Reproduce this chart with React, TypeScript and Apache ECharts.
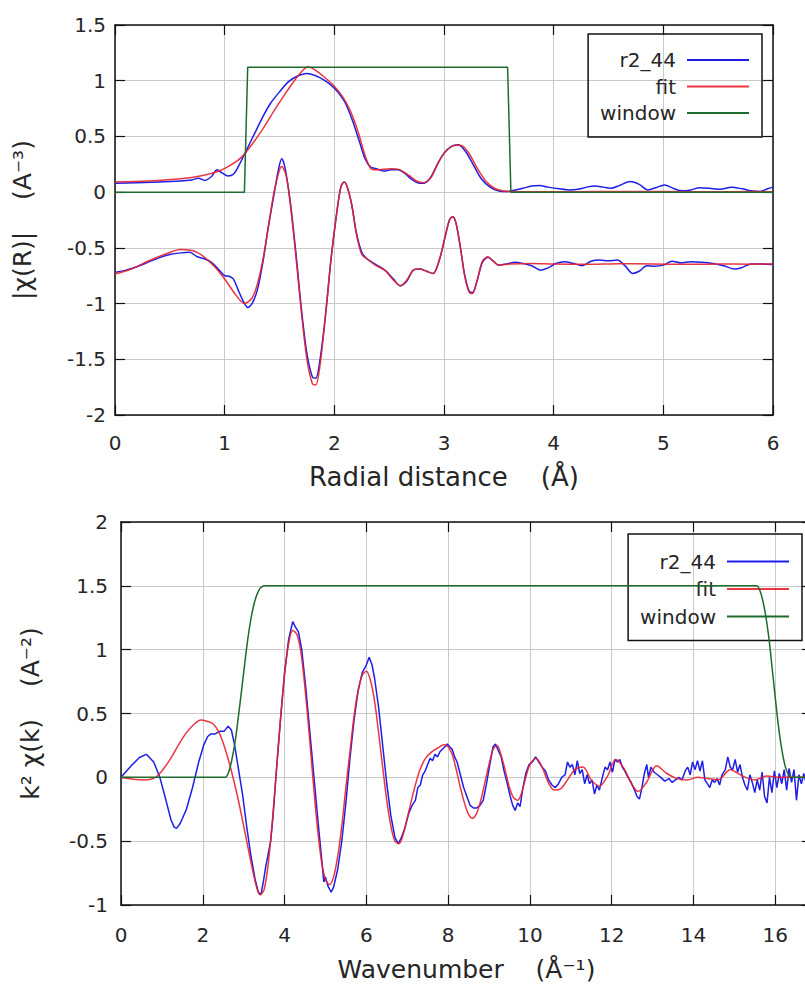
import React, { useEffect, useRef } from "react";
import * as echarts from "echarts";

const BLUE = "#1e1ee8";
const RED = "#e8202c";
const GREEN = "#1e6b2e";
const TEXT = "#262626";
const FONT = '"DejaVu Sans", sans-serif';

const legendNames = ["r2_44", "fit", "window"];

// ---------- R-space (top) ----------
const rMagData: [number, number][] = [
  [0, 0.08], [0.2, 0.085], [0.4, 0.09], [0.6, 0.1], [0.7, 0.11], [0.76, 0.125], [0.82, 0.105],
  [0.88, 0.14], [0.93, 0.2], [0.98, 0.17], [1.03, 0.145], [1.08, 0.16], [1.13, 0.24], [1.2, 0.38],
  [1.27, 0.52], [1.35, 0.68], [1.42, 0.8], [1.5, 0.9], [1.58, 0.99], [1.66, 1.04], [1.75, 1.065],
  [1.83, 1.045], [1.9, 1.01], [1.97, 0.96], [2.03, 0.9], [2.1, 0.8], [2.17, 0.63], [2.23, 0.45],
  [2.28, 0.3], [2.33, 0.225], [2.38, 0.21], [2.45, 0.19], [2.52, 0.2], [2.58, 0.2], [2.64, 0.17],
  [2.7, 0.12], [2.76, 0.085], [2.81, 0.08], [2.87, 0.12], [2.94, 0.25], [3.0, 0.35], [3.07, 0.41],
  [3.13, 0.425], [3.2, 0.36], [3.27, 0.24], [3.34, 0.12], [3.42, 0.045], [3.5, 0.01], [3.58, 0.005],
  [3.65, 0.02], [3.72, 0.035], [3.8, 0.055], [3.87, 0.06], [3.95, 0.045], [4.05, 0.03], [4.15, 0.02],
  [4.22, 0.025], [4.3, 0.045], [4.38, 0.055], [4.45, 0.045], [4.52, 0.035], [4.6, 0.06], [4.7, 0.095],
  [4.78, 0.07], [4.86, 0.02], [4.93, 0.04], [5.01, 0.065], [5.1, 0.03], [5.17, 0.012], [5.25, 0.02],
  [5.33, 0.04], [5.42, 0.035], [5.52, 0.025], [5.62, 0.045], [5.72, 0.03], [5.8, 0.012], [5.88, 0.006],
  [5.95, 0.03], [6.0, 0.045],
];

const rMagFit: [number, number][] = [
  [0, 0.09], [0.3, 0.1], [0.6, 0.12], [0.8, 0.15], [0.95, 0.19], [1.05, 0.24], [1.15, 0.31],
  [1.25, 0.43], [1.35, 0.57], [1.45, 0.73], [1.55, 0.88], [1.65, 1.02], [1.72, 1.1], [1.76, 1.125],
  [1.82, 1.1], [1.9, 1.04], [2.0, 0.95], [2.08, 0.85], [2.15, 0.72], [2.22, 0.53], [2.28, 0.33],
  [2.33, 0.215], [2.38, 0.2], [2.45, 0.205], [2.52, 0.21], [2.6, 0.2], [2.68, 0.15], [2.75, 0.1],
  [2.81, 0.085], [2.88, 0.13], [2.95, 0.27], [3.02, 0.37], [3.1, 0.42], [3.15, 0.42], [3.22, 0.36],
  [3.3, 0.22], [3.38, 0.1], [3.46, 0.035], [3.54, 0.01], [3.62, 0.005], [3.8, 0.003], [4.2, 0.004],
  [4.6, 0.006], [5.0, 0.005], [5.4, 0.004], [5.8, 0.005], [6.0, 0.004],
];

const rReData: [number, number][] = [
  [0, -0.72], [0.1, -0.7], [0.2, -0.67], [0.3, -0.63], [0.4, -0.59], [0.5, -0.56], [0.6, -0.545],
  [0.68, -0.54], [0.75, -0.58], [0.82, -0.6], [0.88, -0.63], [0.95, -0.7], [1.0, -0.75], [1.04, -0.755],
  [1.08, -0.78], [1.12, -0.87], [1.17, -0.98], [1.21, -1.035], [1.25, -1.0], [1.3, -0.87], [1.35, -0.62],
  [1.4, -0.3], [1.45, -0.02], [1.49, 0.2], [1.52, 0.3], [1.55, 0.22], [1.6, -0.1], [1.65, -0.55],
  [1.7, -1.05], [1.75, -1.45], [1.8, -1.66], [1.83, -1.67], [1.87, -1.5], [1.92, -1.1], [1.97, -0.6],
  [2.02, -0.2], [2.06, 0.05], [2.09, 0.09], [2.12, 0.04], [2.16, -0.12], [2.2, -0.36], [2.25, -0.54],
  [2.3, -0.6], [2.38, -0.65], [2.46, -0.7], [2.54, -0.78], [2.6, -0.84], [2.66, -0.8], [2.72, -0.7],
  [2.78, -0.69], [2.84, -0.71], [2.9, -0.73], [2.96, -0.6], [3.01, -0.4], [3.05, -0.25], [3.08, -0.22],
  [3.11, -0.28], [3.15, -0.5], [3.19, -0.75], [3.23, -0.89], [3.26, -0.9], [3.3, -0.8], [3.35, -0.63],
  [3.4, -0.585], [3.45, -0.62], [3.5, -0.655], [3.57, -0.645], [3.65, -0.63], [3.72, -0.64], [3.8, -0.66],
  [3.88, -0.7], [3.95, -0.68], [4.02, -0.64], [4.1, -0.625], [4.18, -0.64], [4.26, -0.66], [4.34, -0.62],
  [4.42, -0.61], [4.5, -0.615], [4.58, -0.61], [4.65, -0.66], [4.72, -0.73], [4.78, -0.71], [4.85, -0.66],
  [4.92, -0.665], [5.0, -0.655], [5.08, -0.62], [5.16, -0.635], [5.25, -0.625], [5.35, -0.63], [5.45, -0.64],
  [5.55, -0.66], [5.65, -0.69], [5.72, -0.675], [5.8, -0.645], [5.9, -0.645], [6.0, -0.65],
];

const rReFit: [number, number][] = [
  [0, -0.735], [0.15, -0.69], [0.3, -0.62], [0.45, -0.56], [0.6, -0.515], [0.75, -0.54], [0.9, -0.66],
  [1.0, -0.78], [1.1, -0.92], [1.18, -1.0], [1.25, -0.95], [1.3, -0.82], [1.35, -0.6], [1.4, -0.3],
  [1.45, 0.0], [1.5, 0.2], [1.52, 0.23], [1.56, 0.15], [1.6, -0.12], [1.65, -0.58], [1.7, -1.08],
  [1.75, -1.5], [1.8, -1.72], [1.83, -1.73], [1.87, -1.55], [1.92, -1.1], [1.97, -0.6], [2.02, -0.2],
  [2.06, 0.05], [2.09, 0.09], [2.12, 0.04], [2.16, -0.12], [2.2, -0.37], [2.25, -0.56], [2.3, -0.6],
  [2.38, -0.66], [2.46, -0.7], [2.54, -0.79], [2.6, -0.84], [2.66, -0.79], [2.72, -0.7], [2.78, -0.69],
  [2.84, -0.71], [2.9, -0.73], [2.96, -0.6], [3.01, -0.4], [3.05, -0.25], [3.08, -0.22], [3.11, -0.28],
  [3.15, -0.5], [3.19, -0.76], [3.23, -0.9], [3.26, -0.91], [3.3, -0.8], [3.35, -0.62], [3.4, -0.58],
  [3.45, -0.62], [3.5, -0.655], [3.6, -0.645], [3.8, -0.64], [4.0, -0.645], [4.3, -0.648], [4.6, -0.642],
  [4.9, -0.645], [5.2, -0.648], [5.5, -0.644], [5.8, -0.646], [6.0, -0.645],
];

const rWindow: [number, number][] = [
  [0, 0], [1.18, 0], [1.21, 1.12], [3.58, 1.12], [3.61, 0], [6.0, 0],
];

// ---------- k-space (bottom) ----------
const kData: [number, number][] = [
  [0, 0], [0.25, 0.09], [0.45, 0.155], [0.62, 0.18], [0.8, 0.12], [0.95, 0.0], [1.1, -0.18], [1.22, -0.33],
  [1.3, -0.39], [1.36, -0.4], [1.45, -0.36], [1.6, -0.25], [1.75, -0.08], [1.9, 0.12], [2.02, 0.25],
  [2.12, 0.32], [2.2, 0.34], [2.3, 0.34], [2.42, 0.36], [2.52, 0.36], [2.62, 0.4], [2.7, 0.37], [2.78, 0.25],
  [2.88, 0.05], [2.98, -0.15], [3.08, -0.4], [3.18, -0.62], [3.28, -0.8], [3.36, -0.9], [3.42, -0.92],
  [3.48, -0.82], [3.54, -0.7], [3.6, -0.6], [3.66, -0.5], [3.72, -0.3], [3.8, 0.05], [3.9, 0.45], [4.0, 0.82],
  [4.1, 1.08], [4.2, 1.22], [4.26, 1.18], [4.34, 1.14], [4.42, 1.0], [4.52, 0.7], [4.62, 0.35], [4.72, 0.0],
  [4.82, -0.35], [4.92, -0.68], [4.96, -0.82], [5.0, -0.78], [5.06, -0.85], [5.14, -0.9], [5.2, -0.86],
  [5.3, -0.72], [5.4, -0.5], [5.5, -0.2], [5.6, 0.15], [5.7, 0.45], [5.8, 0.68], [5.9, 0.82], [6.0, 0.88],
  [6.07, 0.94], [6.14, 0.88], [6.2, 0.78], [6.3, 0.55], [6.4, 0.25], [6.5, -0.05], [6.6, -0.3], [6.7, -0.47],
  [6.78, -0.52], [6.86, -0.47], [6.94, -0.4], [7.04, -0.28], [7.12, -0.22], [7.2, -0.18], [7.26, -0.08],
  [7.32, -0.06], [7.38, 0.02], [7.44, 0.05], [7.5, 0.1], [7.56, 0.15], [7.62, 0.13], [7.68, 0.18], [7.74, 0.16],
  [7.8, 0.2], [7.86, 0.22], [7.92, 0.24], [7.98, 0.26], [8.04, 0.24], [8.1, 0.22], [8.16, 0.16], [8.22, 0.12],
  [8.3, 0.02], [8.38, -0.08], [8.46, -0.15], [8.54, -0.22], [8.62, -0.24], [8.7, -0.24], [8.78, -0.22],
  [8.86, -0.18], [8.94, -0.05], [9.02, 0.1], [9.1, 0.24], [9.16, 0.26], [9.24, 0.2], [9.3, 0.16], [9.36, 0.06],
  [9.44, -0.04], [9.52, -0.15], [9.58, -0.22], [9.64, -0.26], [9.7, -0.2], [9.76, -0.23], [9.82, -0.1],
  [9.9, 0.03], [9.98, 0.1], [10.06, 0.12], [10.14, 0.16], [10.22, 0.12], [10.3, 0.08], [10.38, 0.05],
  [10.46, -0.02], [10.54, -0.06], [10.62, -0.08], [10.7, -0.05], [10.78, 0.0], [10.86, 0.02], [10.92, 0.12],
  [10.98, 0.08], [11.04, 0.1], [11.1, 0.02], [11.16, 0.13], [11.22, 0.03], [11.28, 0.06], [11.34, -0.05],
  [11.4, 0.02], [11.46, -0.05], [11.52, -0.02], [11.58, -0.13], [11.64, -0.06], [11.7, -0.1], [11.78, 0.01],
  [11.84, 0.08], [11.9, 0.06], [11.96, 0.12], [12.02, 0.04], [12.08, 0.14], [12.14, 0.12], [12.2, 0.14],
  [12.26, 0.08], [12.32, 0.05], [12.4, 0.0], [12.48, -0.04], [12.56, -0.1], [12.62, -0.15], [12.68, -0.17],
  [12.74, -0.08], [12.8, 0.03], [12.86, 0.1], [12.9, 0.0], [12.96, 0.08], [13.04, 0.04], [13.12, 0.02],
  [13.2, 0.0], [13.3, -0.03], [13.4, -0.01], [13.48, -0.04], [13.56, -0.02], [13.64, 0.0], [13.72, -0.02],
  [13.8, 0.05], [13.86, 0.08], [13.92, 0.02], [13.98, 0.12], [14.04, 0.06], [14.1, 0.13], [14.16, 0.05],
  [14.22, 0.13], [14.28, -0.02], [14.34, -0.05], [14.4, -0.08], [14.46, -0.02], [14.52, -0.04], [14.58, -0.01],
  [14.64, -0.06], [14.7, 0.02], [14.78, 0.06], [14.84, 0.16], [14.9, 0.08], [14.96, 0.06], [15.02, 0.14],
  [15.08, 0.04], [15.14, 0.1], [15.2, 0.0], [15.26, -0.06], [15.32, -0.1], [15.38, 0.02], [15.44, -0.04],
  [15.5, -0.12], [15.56, -0.02], [15.62, -0.1], [15.68, 0.04], [15.74, -0.15], [15.8, -0.2], [15.86, 0.0],
  [15.92, -0.12], [15.98, 0.05], [16.04, -0.08], [16.1, 0.03], [16.16, -0.05], [16.22, 0.06], [16.28, -0.1],
  [16.34, 0.07], [16.4, -0.04], [16.46, 0.06], [16.52, -0.18], [16.58, 0.02], [16.64, -0.05], [16.7, 0.03],
  [16.78, -0.08], [16.86, 0.0],
];

const kFit: [number, number][] = [
  [0, 0], [0.3, -0.015], [0.6, -0.02], [0.85, 0.0], [1.0, 0.05], [1.2, 0.14], [1.4, 0.25], [1.6, 0.35],
  [1.8, 0.42], [1.95, 0.45], [2.1, 0.44], [2.25, 0.42], [2.4, 0.35], [2.55, 0.22], [2.7, 0.05], [2.85, -0.15],
  [3.0, -0.38], [3.15, -0.62], [3.3, -0.84], [3.4, -0.92], [3.5, -0.88], [3.6, -0.68], [3.7, -0.35], [3.8, 0.05],
  [3.9, 0.45], [4.0, 0.8], [4.1, 1.05], [4.2, 1.15], [4.3, 1.12], [4.4, 0.98], [4.5, 0.7], [4.6, 0.35],
  [4.7, -0.03], [4.8, -0.38], [4.9, -0.65], [5.0, -0.8], [5.1, -0.84], [5.2, -0.78], [5.3, -0.62], [5.4, -0.38],
  [5.5, -0.08], [5.6, 0.2], [5.7, 0.48], [5.8, 0.68], [5.9, 0.8], [6.0, 0.83], [6.1, 0.76], [6.2, 0.6],
  [6.3, 0.35], [6.4, 0.08], [6.5, -0.18], [6.6, -0.38], [6.7, -0.5], [6.8, -0.52], [6.9, -0.45], [7.0, -0.32],
  [7.15, -0.12], [7.3, 0.05], [7.45, 0.15], [7.6, 0.2], [7.75, 0.23], [7.9, 0.255], [8.0, 0.24], [8.1, 0.18],
  [8.2, 0.06], [8.3, -0.08], [8.4, -0.2], [8.5, -0.29], [8.6, -0.32], [8.7, -0.28], [8.8, -0.18], [8.9, -0.04],
  [9.0, 0.1], [9.1, 0.22], [9.2, 0.25], [9.3, 0.17], [9.4, 0.05], [9.5, -0.08], [9.6, -0.16], [9.7, -0.18],
  [9.8, -0.12], [9.9, 0.0], [10.0, 0.1], [10.15, 0.15], [10.3, 0.08], [10.45, -0.04], [10.6, -0.1],
  [10.75, -0.09], [10.9, -0.03], [11.1, 0.06], [11.3, 0.08], [11.5, -0.02], [11.7, -0.07], [11.9, 0.01],
  [12.1, 0.14], [12.3, 0.07], [12.5, -0.06], [12.65, -0.11], [12.85, -0.04], [13.1, 0.09], [13.35, 0.03],
  [13.6, -0.01], [13.85, -0.02], [14.1, 0.0], [14.35, -0.01], [14.6, -0.02], [14.9, 0.06], [15.2, 0.01],
  [15.5, -0.02], [15.8, 0.01], [16.1, 0.0], [16.4, 0.0], [16.9, 0.0],
];

const kWindow: [number, number][] = [
  [0, 0], [2.55, 0], [2.62, 0.03], [2.7, 0.12], [2.8, 0.3], [2.9, 0.55], [3.0, 0.82], [3.1, 1.08],
  [3.2, 1.28], [3.3, 1.41], [3.4, 1.48], [3.5, 1.5], [15.55, 1.5], [15.65, 1.44], [15.75, 1.3],
  [15.85, 1.08], [15.95, 0.78], [16.05, 0.48], [16.15, 0.24], [16.25, 0.08], [16.35, 0.01], [16.42, 0],
  [16.9, 0],
];

// ---------- helpers ----------
const frameLine = { show: true, onZero: false, lineStyle: { color: "#111", width: 1.5 } };
const inTick = { show: true, inside: true, length: 10, lineStyle: { color: "#111", width: 1.2 } };
const gridLine = { show: true, lineStyle: { color: "#c9c9c9", width: 1 } };

function xAxes(gridIndex: number, min: number, max: number, interval: number, name: string, nameGap: number, labelMargin: number, nameSize: number) {
  return [
    {
      type: "value", gridIndex, min, max, interval, position: "bottom",
      axisLine: frameLine, axisTick: inTick, splitLine: gridLine,
      axisLabel: { margin: labelMargin, fontSize: 20, color: TEXT, fontFamily: FONT, showMaxLabel: max % interval === 0 },
      name, nameLocation: "middle", nameGap,
      nameTextStyle: { fontSize: nameSize, color: TEXT, fontFamily: FONT },
    },
    {
      type: "value", gridIndex, min, max, interval, position: "top",
      axisLine: frameLine, axisTick: inTick, splitLine: { show: false },
      axisLabel: { show: false },
    },
  ];
}

function yAxes(gridIndex: number, min: number, max: number, interval: number, name: string, nameGap: number, labelMargin: number) {
  return [
    {
      type: "value", gridIndex, min, max, interval, position: "left",
      axisLine: frameLine, axisTick: inTick, splitLine: gridLine,
      axisLabel: { margin: labelMargin, fontSize: 20, color: TEXT, fontFamily: FONT },
      name, nameLocation: "middle", nameGap, nameRotate: 90,
      nameTextStyle: { fontSize: 25, color: TEXT, fontFamily: FONT },
    },
    {
      type: "value", gridIndex, min, max, interval, position: "right",
      axisLine: frameLine, axisTick: inTick, splitLine: { show: false },
      axisLabel: { show: false },
    },
  ];
}

function line(name: string, data: [number, number][], color: string, axisIndex: number, smooth: number | boolean, z: number, opacity = 1) {
  return {
    name, type: "line", data, xAxisIndex: axisIndex, yAxisIndex: axisIndex,
    symbol: "none", showSymbol: false, smooth, z,
    lineStyle: { color, width: 1.5, opacity }, itemStyle: { color, opacity: 0 },
    emphasis: { disabled: true },
  };
}

function legend(right: number, top: number, itemGap: number, padding: number[]) {
  return {
    data: legendNames, orient: "vertical", align: "right", right, top,
    itemWidth: 62, itemHeight: 22, itemGap, padding,
    borderColor: "#111", borderWidth: 1.5, backgroundColor: "transparent",
    selectedMode: false,
    itemStyle: { opacity: 0 },
    textStyle: { fontFamily: FONT, fontSize: 20, lineHeight: 20, color: TEXT, padding: [0, 6, 0, 0] },
  };
}

export default function App() {
  const ref = useRef<HTMLDivElement>(null);

  useEffect(() => {
    if (!ref.current) return;
    const chart = echarts.init(ref.current, null, { renderer: "svg" });
    const option = {
      animation: false,
      backgroundColor: "#ffffff",
      textStyle: { fontFamily: FONT },
      grid: [
        { left: 115, top: 25, width: 658, height: 390, show: false },
        { left: 121, top: 522, width: 691, height: 383, show: false },
      ],
      xAxis: [
        ...xAxes(0, 0, 6, 1, "Radial distance    (Å)", 49, 18, 26),
        ...xAxes(1, 0, 16.9, 2, "Wavenumber    (Å⁻¹)", 52, 20, 25),
      ],
      yAxis: [
        ...yAxes(0, -2, 1.5, 0.5, "|χ(R)|    (A⁻³)", 80, 9),
        ...yAxes(1, -1, 2, 0.5, "k² χ(k)    (A⁻²)", 78, 13),
      ],
      legend: [
        legend(78, 34, 6.5, [16, 12, 14, 12]),
        legend(38, 534, 7.5, [17.5, 12, 14, 12]),
      ],
      series: [
        line("r2_44", rMagData, BLUE, 0, 0.3, 2),
        line("r2_44", rReData, BLUE, 0, 0.3, 2),
        line("fit", rMagFit, RED, 0, 0.3, 3, 0.9),
        line("fit", rReFit, RED, 0, 0.3, 3, 0.9),
        line("window", rWindow, GREEN, 0, false, 4),
        line("r2_44", kData, BLUE, 2, false, 2),
        line("fit", kFit, RED, 2, 0.3, 3, 0.9),
        line("window", kWindow, GREEN, 2, 0.2, 4),
      ],
    };
    chart.setOption(option as any);
    return () => chart.dispose();
  }, []);

  return (
    <div style={{ position: "fixed", left: 0, top: 0, width: 805, height: 990, overflow: "hidden", background: "#fff" }}>
      <div ref={ref} style={{ width: 840, height: 990 }} />
    </div>
  );
}
